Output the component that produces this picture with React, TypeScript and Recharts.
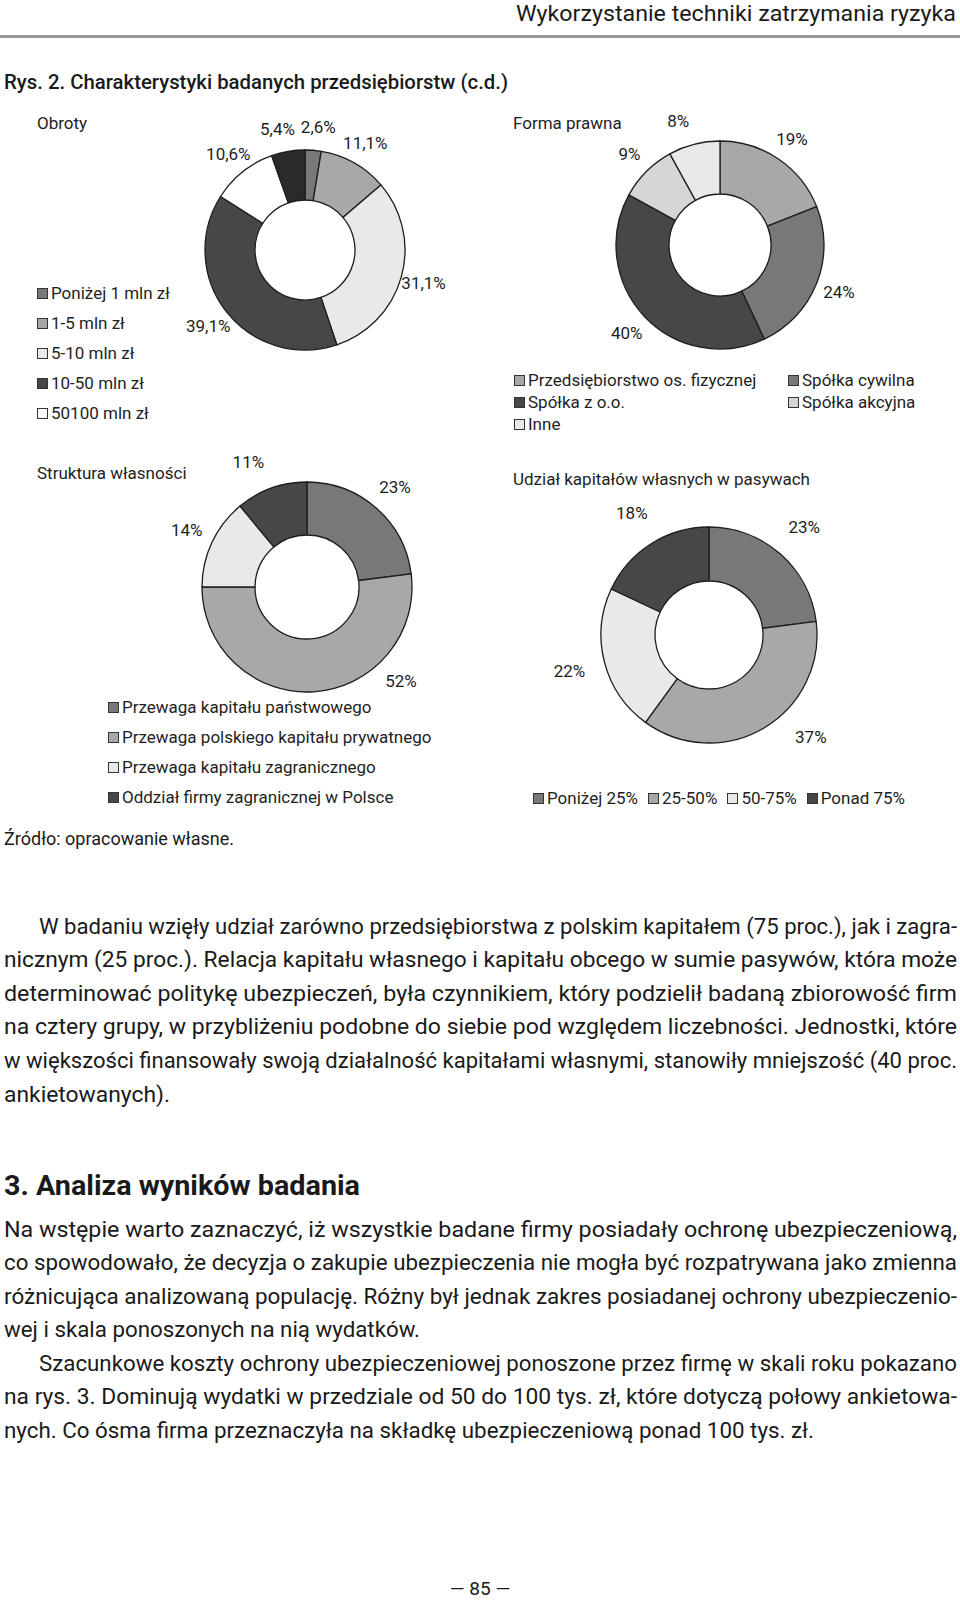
import React from "react"
import { PieChart, Pie, Cell } from "recharts"

// --- chart data ---
const obrotyNames = ["Poniżej 1 mln zł", "1-5 mln zł", "5-10 mln zł", "10-50 mln zł", "50100 mln zł", "Powyżej 100 mln zł"]
const obrotyValues = [2.6, 11.1, 31.1, 39.1, 10.6, 5.4]
const obrotyLegendCount = 5 // last slice has no legend entry in the source

const formaNames = ["Przedsiębiorstwo os. fizycznej", "Spółka cywilna", "Spółka z o.o.", "Spółka akcyjna", "Inne"]
const formaValues = [19, 24, 40, 9, 8]

const strukturaNames = [
  "Przewaga kapitału państwowego",
  "Przewaga polskiego kapitału prywatnego",
  "Przewaga kapitału zagranicznego",
  "Oddział firmy zagranicznej w Polsce",
]
const strukturaValues = [23, 52, 14, 11]

const udzialNames = ["Poniżej 25%", "25-50%", "50-75%", "Ponad 75%"]
const udzialValues = [23, 37, 22, 18]

// --- page text ---
const para1 = [
  "W badaniu wzięły udział zarówno przedsiębiorstwa z polskim kapitałem (75 proc.), jak i zagra-",
  "nicznym (25 proc.). Relacja kapitału własnego i kapitału obcego w sumie pasywów, która może",
  "determinować politykę ubezpieczeń, była czynnikiem, który podzielił badaną zbiorowość firm",
  "na cztery grupy, w przybliżeniu podobne do siebie pod względem liczebności. Jednostki, które",
  "w większości finansowały swoją działalność kapitałami własnymi, stanowiły mniejszość (40 proc.",
  "ankietowanych).",
]
const para2 = [
  "Na wstępie warto zaznaczyć, iż wszystkie badane firmy posiadały ochronę ubezpieczeniową,",
  "co spowodowało, że decyzja o zakupie ubezpieczenia nie mogła być rozpatrywana jako zmienna",
  "różnicująca analizowaną populację. Różny był jednak zakres posiadanej ochrony ubezpieczenio-",
  "wej i skala ponoszonych na nią wydatków.",
]
const para3 = [
  "Szacunkowe koszty ochrony ubezpieczeniowej ponoszone przez firmę w skali roku pokazano",
  "na rys. 3. Dominują wydatki w przedziale od 50 do 100 tys. zł, które dotyczą połowy ankietowa-",
  "nych. Co ósma firma przeznaczyła na składkę ubezpieczeniową ponad 100 tys. zł.",
]

// --- styles ---
const FONT = "Roboto, 'DejaVu Sans', sans-serif"
const INK = "#1e1e1e"
const MID = "#787878"
const LIGHT = "#a8a8a8"
const PALE = "#e9e9e9"
const DARK = "#474747"
const BLACK = "#2a2a2a"
const WHITE = "#ffffff"
const SOFT = "#d6d6d6"

const obrotyColors = [MID, LIGHT, PALE, DARK, WHITE, BLACK]
const formaColors = [LIGHT, MID, DARK, SOFT, PALE]
const strukturaColors = [MID, LIGHT, PALE, DARK]
const udzialColors = [MID, LIGHT, PALE, DARK]

const RAD = Math.PI / 180

const fmtPct = (decimals: number) => (v: number) => `${v.toFixed(decimals).replace(".", ",")}%`

// label sits outside the ring on the slice's mid angle.
// labels pointing almost straight down would hit the legend, so they swing to 45° below
// horizontal; labels near the top get pushed sideways so thin neighbours don't collide
const renderLabel = (gap: number, fmt: (v: number) => string) => (p: any) => {
  let ang = ((p.midAngle % 360) + 540) % 360 - 180
  if (Math.abs(ang + 90) < 32) ang = Math.cos(ang * RAD) >= 0 ? -45 : -135
  const r = p.outerRadius + gap
  const cos = Math.cos(-ang * RAD)
  const sin = Math.sin(-ang * RAD)
  const push = Math.abs(cos) < 0.35 ? cos * 40 : 0
  const x = p.cx + r * cos + push
  const y = p.cy + r * sin
  return (
    <text x={x} y={y} textAnchor="middle" dominantBaseline="central" fill={INK} fontSize={17} fontFamily={FONT}>
      {fmt(p.value)}
    </text>
  )
}

interface DonutProps {
  names: string[]
  values: number[]
  colors: string[]
  left: number
  top: number
  width: number
  height: number
  cx: number
  cy: number
  inner: number
  outer: number
  gap: number
  decimals: number
}

function Donut(props: DonutProps) {
  const { names, values, colors, left, top, width, height, cx, cy, inner, outer, gap, decimals } = props
  const data = names.map((name, i) => ({ name, value: values[i] }))
  return (
    <div style={{ position: "absolute", left, top }}>
      <PieChart width={width} height={height} margin={{ top: 0, right: 0, bottom: 0, left: 0 }}>
        <Pie
          data={data}
          dataKey="value"
          nameKey="name"
          cx={cx}
          cy={cy}
          innerRadius={inner}
          outerRadius={outer}
          startAngle={90}
          endAngle={-270}
          stroke={INK}
          strokeWidth={1.3}
          labelLine={false}
          label={renderLabel(gap, fmtPct(decimals))}
          isAnimationActive={false}
        >
          {data.map((d, i) => (
            <Cell key={d.name} fill={colors[i]} />
          ))}
        </Pie>
      </PieChart>
    </div>
  )
}

interface LegendProps {
  names: string[]
  colors: string[]
  left: number
  top: number
  rowHeight: number
  columns?: string
  gap?: number
}

function SwatchLegend({ names, colors, left, top, rowHeight, columns, gap }: LegendProps) {
  return (
    <div
      style={{
        position: "absolute",
        left,
        top,
        display: "grid",
        gridTemplateColumns: columns ?? "auto",
        gridAutoRows: rowHeight,
        columnGap: gap ?? 0,
        fontFamily: FONT,
        fontSize: 17,
        color: INK,
        whiteSpace: "nowrap",
      }}
    >
      {names.map((n, i) => (
        <div key={n} style={{ display: "flex", alignItems: "center" }}>
          <span
            style={{
              display: "inline-block",
              width: 9,
              height: 9,
              background: colors[i],
              border: "1px solid #333",
              marginRight: 3,
            }}
          />
          <span>{n}</span>
        </div>
      ))}
    </div>
  )
}

function Title({ text, left, y }: { text: string; left: number; y: number }) {
  return (
    <div
      style={{
        position: "absolute",
        left,
        top: y - 11,
        lineHeight: "22px",
        fontFamily: FONT,
        fontSize: 17,
        color: INK,
        whiteSpace: "nowrap",
      }}
    >
      {text}
    </div>
  )
}

const LINE = 33.6
const FULL = 953

function Paragraph({ lines, y0, indent, lastLen }: { lines: string[]; y0: number; indent: boolean; lastLen: number }) {
  return (
    <g>
      {lines.map((t, i) => {
        const x = i === 0 && indent ? 39 : 4
        const last = i === lines.length - 1
        const len = last ? lastLen : 4 + FULL - x
        return (
          <text
            key={i}
            x={x}
            y={y0 + i * LINE}
            dominantBaseline="central"
            textLength={len}
            lengthAdjust="spacingAndGlyphs"
          >
            {t}
          </text>
        )
      })}
    </g>
  )
}

export default function App() {
  return (
    <div style={{ position: "absolute", left: 0, top: 0, width: 960, height: 1602, background: "#fff", overflow: "hidden" }}>
      <svg width={960} height={1602} style={{ position: "absolute", left: 0, top: 0 }} fontFamily={FONT} fill="#1a1a1a">
        <text x={956} y={13} fontSize={22} textAnchor="end" dominantBaseline="central" textLength={440} lengthAdjust="spacingAndGlyphs">
          Wykorzystanie techniki zatrzymania ryzyka
        </text>
        <rect x={0} y={35} width={960} height={3} fill="#9a9a9a" />
        <text x={4} y={82} fontSize={20} fontWeight={500} dominantBaseline="central" textLength={504} lengthAdjust="spacingAndGlyphs">
          Rys. 2. Charakterystyki badanych przedsiębiorstw (c.d.)
        </text>
        <text x={4} y={838} fontSize={18} dominantBaseline="central">
          Źródło: opracowanie własne.
        </text>
        <g fontSize={22}>
          <Paragraph lines={para1} y0={926} indent lastLen={166} />
          <Paragraph lines={para2} y0={1229} indent={false} lastLen={416} />
          <Paragraph lines={para3} y0={1363} indent lastLen={810} />
        </g>
        <text x={4} y={1185} fontSize={28} fontWeight={700} dominantBaseline="central" textLength={356} lengthAdjust="spacingAndGlyphs">
          3. Analiza wyników badania
        </text>
        <text x={480} y={1588} fontSize={19} textAnchor="middle" dominantBaseline="central">
          — 85 —
        </text>
      </svg>

      <Title text="Obroty" left={37} y={123} />
      <Title text="Forma prawna" left={513} y={123} />
      <Title text="Struktura własności" left={37} y={473} />
      <Title text="Udział kapitałów własnych w pasywach" left={513} y={479} />

      <Donut names={obrotyNames} values={obrotyValues} colors={obrotyColors} left={0} top={100} width={480} height={330}
        cx={305} cy={150} inner={50} outer={100} gap={23} decimals={1} />
      <Donut names={formaNames} values={formaValues} colors={formaColors} left={480} top={100} width={480} height={270}
        cx={240} cy={145} inner={51} outer={104} gap={24} decimals={0} />
      <Donut names={strukturaNames} values={strukturaValues} colors={strukturaColors} left={0} top={440} width={480} height={300}
        cx={307} cy={147} inner={52} outer={105} gap={28} decimals={0} />
      <Donut names={udzialNames} values={udzialValues} colors={udzialColors} left={480} top={440} width={480} height={380}
        cx={229} cy={195} inner={54} outer={108} gap={36} decimals={0} />

      <SwatchLegend names={obrotyNames.slice(0, obrotyLegendCount)} colors={obrotyColors} left={37} top={278} rowHeight={30} />
      <SwatchLegend names={formaNames} colors={formaColors} left={514} top={369} rowHeight={22} columns="274px auto" />
      <SwatchLegend names={strukturaNames} colors={strukturaColors} left={108} top={692} rowHeight={30} />
      <SwatchLegend names={udzialNames} colors={udzialColors} left={533} top={783} rowHeight={30} columns="repeat(4, auto)" gap={10} />
    </div>
  )
}
